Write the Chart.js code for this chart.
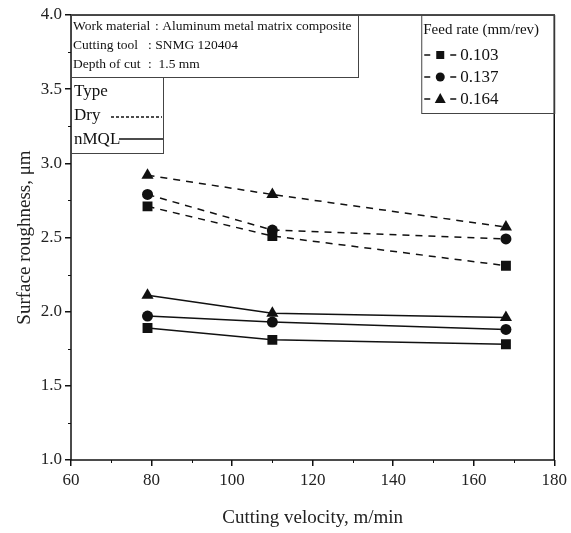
<!DOCTYPE html>
<html>
<head>
<meta charset="utf-8">
<script src="https://cdn.jsdelivr.net/npm/chart.js@4"></script>
<style>
  html, body { margin: 0; padding: 0; background: #fff; }
  #wrap { width: 571px; height: 533px; }
</style>
</head>
<body>
<div id="wrap"><canvas id="myChart" width="571" height="533"></canvas></div>
<script>
// cutting velocity (m/min)
const velocity = [79, 110, 168];
// feed rates
const feedRates = ['0.103', '0.137', '0.164'];
const markers = ['rect', 'circle', 'triangle'];
// surface roughness, Dry
const dry103 = [2.71, 2.51, 2.31];
const dry137 = [2.79, 2.55, 2.49];
const dry164 = [2.92, 2.79, 2.57];
// surface roughness, nMQL
const nmql103 = [1.89, 1.81, 1.78];
const nmql137 = [1.97, 1.93, 1.88];
const nmql164 = [2.11, 1.99, 1.96];

const infoLines = [
  ['Work material', ': Aluminum metal matrix composite'],
  ['Cutting tool', ': SNMG 120404'],
  ['Depth of cut', ':  1.5 mm']
];

const serif = '"Liberation Serif", "DejaVu Serif", serif';
const radii = { rect: 7, circle: 5.5, triangle: 7 };

function makeSet (label, values, idx, dashed) {
  return {
    label: label,
    data: velocity.map((v, i) => ({x: v, y: values[i]})),
    borderColor: '#111',
    backgroundColor: '#111',
    borderWidth: 1.5,
    borderDash: dashed ? [7, 6] : [],
    pointStyle: markers[idx],
    pointRadius: radii[markers[idx]],
    pointBorderWidth: 0,
    tension: 0
  };
}

const datasets = [
  makeSet('Dry 0.103', dry103, 0, true),
  makeSet('Dry 0.137', dry137, 1, true),
  makeSet('Dry 0.164', dry164, 2, true),
  makeSet('nMQL 0.103', nmql103, 0, false),
  makeSet('nMQL 0.137', nmql137, 1, false),
  makeSet('nMQL 0.164', nmql164, 2, false)
];

// frame, minor ticks and the three boxes
const boxes = {
  id: 'boxes',
  afterDraw (chart) {
    const ctx = chart.ctx;
    const a = chart.chartArea;
    const xs = chart.scales.x, ys = chart.scales.y;
    ctx.save();
    ctx.strokeStyle = '#111';
    ctx.lineWidth = 1.5;
    ctx.strokeRect(a.left, a.top, a.right - a.left, a.bottom - a.top);

    // minor ticks
    ctx.lineWidth = 1;
    for (let v = 1.25; v < 4; v += 0.5) {
      const y = Math.round(ys.getPixelForValue(v)) + 0.5;
      ctx.beginPath(); ctx.moveTo(a.left - 3, y); ctx.lineTo(a.left, y); ctx.stroke();
    }
    for (let v = 70; v < 180; v += 20) {
      const x = Math.round(xs.getPixelForValue(v)) + 0.5;
      ctx.beginPath(); ctx.moveTo(x, a.bottom); ctx.lineTo(x, a.bottom + 3); ctx.stroke();
    }

    // info box
    const L = a.left;
    ctx.lineWidth = 1;
    ctx.strokeStyle = '#444';
    ctx.strokeRect(L + 0.5, a.top + 0.5, 287, 62);
    ctx.fillStyle = '#111';
    ctx.font = '13.5px ' + serif;
    ctx.textBaseline = 'middle';
    infoLines.forEach((ln, i) => {
      const y = a.top + 11 + i * 19;
      ctx.fillText(ln[0], L + 2, y);
      ctx.fillText(ln[1], L + (i === 0 ? 84 : 77), y);
    });

    // type box
    const tTop = a.top + 62;
    ctx.strokeRect(L + 0.5, tTop + 0.5, 92, 76);
    ctx.font = '17px ' + serif;
    ctx.fillText('Type', L + 3, tTop + 15);
    ctx.fillText('Dry', L + 3, tTop + 39);
    ctx.fillText('nMQL', L + 3, tTop + 63);
    ctx.strokeStyle = '#111';
    ctx.lineWidth = 1.5;
    ctx.setLineDash([3, 2]);
    ctx.beginPath(); ctx.moveTo(L + 40, tTop + 40); ctx.lineTo(L + 91, tTop + 40); ctx.stroke();
    ctx.setLineDash([]);
    ctx.beginPath(); ctx.moveTo(L + 48, tTop + 62); ctx.lineTo(L + 92, tTop + 62); ctx.stroke();

    // feed rate legend
    const fL = a.right - 133;
    ctx.lineWidth = 1;
    ctx.strokeStyle = '#444';
    ctx.strokeRect(fL + 0.5, a.top + 0.5, 133, 98);
    ctx.font = '15px ' + serif;
    ctx.fillText('Feed rate (mm/rev)', fL + 2, a.top + 15);
    ctx.strokeStyle = '#111';
    ctx.lineWidth = 1.5;
    feedRates.forEach((f, i) => {
      const y = a.top + 40 + i * 22;
      ctx.beginPath(); ctx.moveTo(fL + 3, y); ctx.lineTo(fL + 9, y); ctx.stroke();
      ctx.beginPath(); ctx.moveTo(fL + 29, y); ctx.lineTo(fL + 35, y); ctx.stroke();
      const cx = fL + 19;
      ctx.beginPath();
      if (markers[i] === 'rect') {
        ctx.rect(cx - 4, y - 4, 8, 8);
      } else if (markers[i] === 'circle') {
        ctx.arc(cx, y, 4.5, 0, Math.PI * 2);
      } else {
        ctx.moveTo(cx, y - 6); ctx.lineTo(cx + 5.5, y + 4); ctx.lineTo(cx - 5.5, y + 4); ctx.closePath();
      }
      ctx.fill();
      ctx.font = '17px ' + serif;
      ctx.fillText(f, fL + 39, y + 1);
    });
    ctx.restore();
  }
};

const ctx = document.getElementById('myChart');
new Chart(ctx, {
  type: 'line',
  data: { datasets: datasets },
  options: {
    responsive: false,
    animation: false,
    layout: { padding: { top: 15, right: 14, left: 0, bottom: 0 } },
    plugins: { legend: { display: false }, tooltip: { enabled: false } },
    scales: {
      x: {
        type: 'linear',
        min: 60, max: 180,
        afterFit: s => { s.height = 73; },
        border: { display: false },
        grid: { drawOnChartArea: false, tickLength: 6, color: '#111', lineWidth: 1.5 },
        ticks: { stepSize: 20, color: '#222', padding: 4, font: { family: serif, size: 17 } },
        title: { display: true, text: 'Cutting velocity, m/min', color: '#222', font: { family: serif, size: 19 }, padding: { top: 10 } }
      },
      y: {
        min: 1.0, max: 4.0,
        afterFit: s => { s.width = 71; },
        border: { display: false },
        grid: { drawOnChartArea: false, tickLength: 6, color: '#111', lineWidth: 1.5 },
        ticks: { stepSize: 0.5, color: '#222', padding: 3, callback: v => v.toFixed(1), font: { family: serif, size: 17 } },
        title: { display: true, text: 'Surface roughness, \u03bcm', color: '#222', font: { family: serif, size: 19 }, padding: { top: 14, bottom: 2 } }
      }
    }
  },
  plugins: [boxes]
});
</script>
</body>
</html>
